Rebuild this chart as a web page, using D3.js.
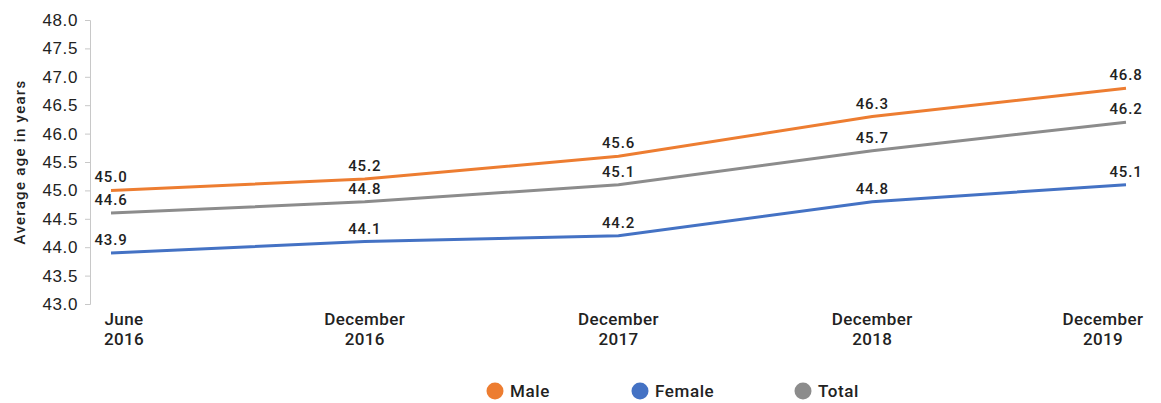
<!DOCTYPE html>
<html><head><meta charset="utf-8">
<script src="https://cdn.jsdelivr.net/npm/d3@7"></script>
<style>
html,body{margin:0;padding:0;background:#fff;}
svg{display:block;font-family:Roboto,"Liberation Sans",Arial,sans-serif;}
</style></head>
<body><svg id="c" width="1161" height="403"></svg>
<script>
const categories = [["June","2016"],["December","2016"],["December","2017"],["December","2018"],["December","2019"]];
const seriesNames = ["Male","Female","Total"];
const male   = [45.0, 45.2, 45.6, 46.3, 46.8];
const female = [43.9, 44.1, 44.2, 44.8, 45.1];
const total  = [44.6, 44.8, 45.1, 45.7, 46.2];
const colors = ["#ED7D31","#4472C4","#8C8C8C"];
const yTicks = [43.0,43.5,44.0,44.5,45.0,45.5,46.0,46.5,47.0,47.5,48.0];
const yTitle = "Average age in years";

const svg = d3.select("#c");
const keys = categories.map(c => c.join(" "));
const x = d3.scalePoint().domain(keys).range([111, 1126]);
const y = d3.scaleLinear().domain([43, 48]).range([304, 20]);
const textColor = "#222";

// y axis
const yAxis = d3.axisLeft(y).tickValues(yTicks).tickFormat(d3.format(".1f")).tickSize(5).tickSizeOuter(5).tickPadding(7);
const ga = svg.append("g").attr("transform","translate(90,0)").call(yAxis);
ga.select(".domain").attr("stroke","#c8c8c8");
ga.selectAll(".tick line").attr("stroke","#c8c8c8");
ga.selectAll(".tick text").attr("fill",textColor).style("font-size","17px").style("font-weight","500").style("letter-spacing","0.6px");

// y title
svg.append("text").attr("transform","translate(25,162) rotate(-90)").attr("text-anchor","middle")
  .style("font-size","15px").style("font-weight","500").style("letter-spacing","1.3px").attr("fill",textColor).text(yTitle);

// x labels
const xl = svg.append("g");
categories.forEach((c,i) => {
  let cx = x(keys[i]);
  if (i === 0) cx += 13;
  if (i === categories.length-1) cx -= 23;
  const t = xl.append("text").attr("x",cx).attr("y",325).attr("text-anchor","middle")
    .attr("fill",textColor).style("font-size","17px").style("font-weight","500").style("letter-spacing","0.4px");
  t.append("tspan").attr("x",cx).attr("dy",0).text(c[0]);
  t.append("tspan").attr("x",cx).attr("dy",20).text(c[1]);
});

// lines
const data = [male, female, total];
const line = d3.line().x((d,i) => x(keys[i])).y(d => y(d));
data.forEach((s,k) => {
  svg.append("path").datum(s).attr("d", line).attr("fill","none").attr("stroke",colors[k]).attr("stroke-width",3);
});
// labels
data.forEach((s,k) => {
  svg.append("g").selectAll("text").data(s).join("text")
    .attr("x",(d,i) => x(keys[i])).attr("y", d => y(d) - 8).attr("text-anchor","middle")
    .attr("fill",textColor).style("font-size","15px").style("font-weight","500").style("letter-spacing","0.8px")
    .text(d => d3.format(".1f")(d));
});

// legend
const legX = [495, 640, 803];
const lg = svg.append("g");
seriesNames.forEach((n,k) => {
  lg.append("circle").attr("cx",legX[k]).attr("cy",391).attr("r",8.5).attr("fill",colors[k]);
  lg.append("text").attr("x",legX[k]+15).attr("y",397).attr("fill",textColor)
    .style("font-size","17px").style("font-weight","500").style("letter-spacing","0.6px").text(n);
});
</script></body></html>
